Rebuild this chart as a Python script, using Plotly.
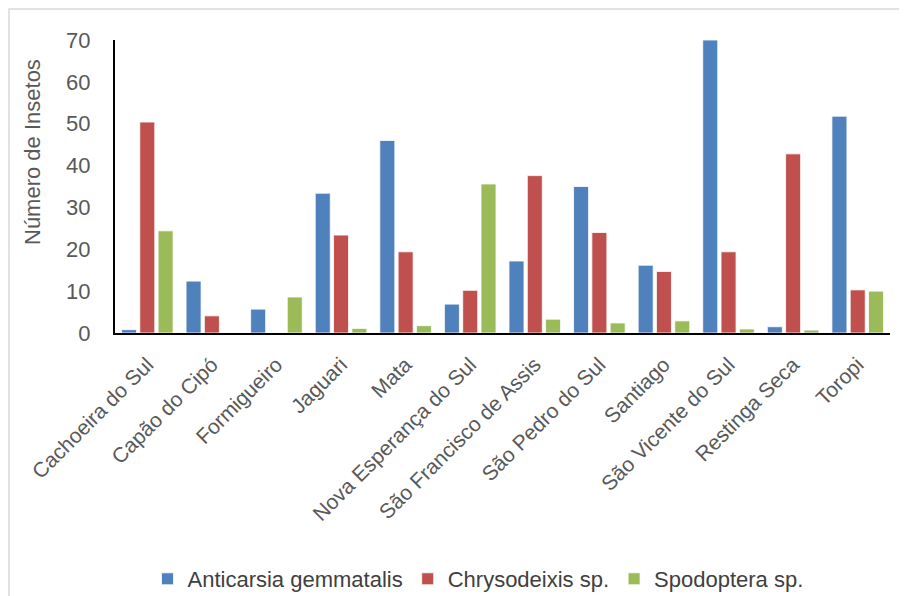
import plotly.graph_objects as go

categories = ["Cachoeira do Sul", "Capão do Cipó", "Formigueiro", "Jaguari", "Mata",
              "Nova Esperança do Sul", "São Francisco de Assis", "São Pedro do Sul",
              "Santiago", "São Vicente do Sul", "Restinga Seca", "Toropi"]
anticarsia = [0.8, 12.4, 5.7, 33.4, 46.0, 6.9, 17.2, 35.0, 16.2, 70.0, 1.5, 51.8]
chrysodeixis = [50.4, 4.1, 0, 23.4, 19.4, 10.2, 37.6, 24.0, 14.7, 19.4, 42.8, 10.3]
spodoptera = [24.4, 0, 8.6, 1.1, 1.75, 35.6, 3.3, 2.4, 2.9, 0.96, 0.7, 10.0]
y_ticks = [0, 10, 20, 30, 40, 50, 60, 70]

series = [("Anticarsia gemmatalis", anticarsia, "#4F81BD"),
          ("Chrysodeixis sp.", chrysodeixis, "#C0504D"),
          ("Spodoptera sp.", spodoptera, "#9BBB59")]

fig = go.Figure()
for name, vals, col in series:
    fig.add_trace(go.Bar(x=categories, y=vals, name=name,
                         marker=dict(color=col, line=dict(color="white", width=0.8))))

OFF = 8  # page body margin
W, H = 907 - OFF, 596 - OFF
PL, PR, PT, PB = 115, 890, 40, 333  # plot area in page pixels
L, T = PL - OFF, PT - OFF
R, B = W - (PR - OFF), H - (PB - OFF)
pw, ph = PR - PL, PB - PT


def px(x):
    return (x - PL) / pw


def py(y):
    return (PB - y) / ph


fig.update_layout(
    width=W, height=H,
    margin=dict(l=L, r=R, t=T, b=B, autoexpand=False),
    paper_bgcolor="white", plot_bgcolor="white",
    barmode="group", bargap=0.15, bargroupgap=0.18,
    font=dict(family="Liberation Sans", color="#595959", size=21),
    showlegend=True,
    legend=dict(orientation="h", x=px(478), xanchor="center",
                y=py(579), yanchor="middle",
                font=dict(size=22, color="#404040"), itemwidth=30, tracegroupgap=0),
    xaxis=dict(showline=True, linecolor="black", linewidth=2, ticks="", automargin=False,
               tickangle=-45, ticklabelstandoff=9,
               tickfont=dict(size=21, color="#595959"),
               showgrid=False),
    yaxis=dict(range=[0, 70], tickvals=y_ticks, showline=True, linecolor="black", linewidth=2,
               ticks="", showgrid=False, zeroline=False, automargin=False,
               ticklabelstandoff=18,
               tickfont=dict(size=22, color="#595959")),
    annotations=[dict(text="Número de Insetos", xref="paper", yref="paper",
                      x=px(32), y=py(152), textangle=-90,
                      showarrow=False, xanchor="center", yanchor="middle",
                      font=dict(size=22, color="#595959"))],
    shapes=[dict(type="rect", xref="paper", yref="paper",
                 x0=px(9), x1=px(905),
                 y0=py(600), y1=py(9),
                 line=dict(color="#D9D9D9", width=1.5), layer="below")],
)

fig.write_html("out.html")
